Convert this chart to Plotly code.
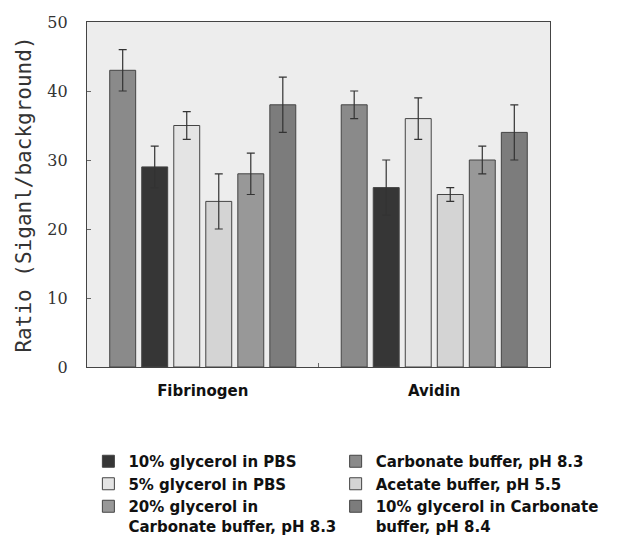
import plotly.graph_objects as go

categories = ["Fibrinogen", "Avidin"]

series_names = [
    "Carbonate buffer, pH 8.3",
    "10% glycerol in PBS",
    "5% glycerol in PBS",
    "Acetate buffer, pH 5.5",
    "20% glycerol in<br>Carbonate buffer, pH 8.3",
    "10% glycerol in Carbonate<br>buffer, pH 8.4",
]
series_values = [
    [43, 38],
    [29, 26],
    [35, 36],
    [24, 25],
    [28, 30],
    [38, 34],
]
series_errors = [
    [3, 2],
    [3, 4],
    [2, 3],
    [4, 1],
    [3, 2],
    [4, 4],
]
series_colors = ["#8a8a8a", "#363636", "#e4e4e4", "#d4d4d4", "#989898", "#7c7c7c"]
legend_ids = ["legend2", "legend", "legend", "legend2", "legend", "legend2"]
legend_ranks = [1, 1, 2, 2, 3, 3]

y_ticks = [0, 10, 20, 30, 40, 50]

fig = go.Figure()
for name, vals, errs, col, lid, rank in zip(series_names, series_values, series_errors,
                                            series_colors, legend_ids, legend_ranks):
    fig.add_trace(go.Bar(
        name=name,
        x=categories,
        y=vals,
        error_y=dict(type="data", array=errs, color="#333333", thickness=1.2, width=4),
        marker=dict(color=col, line=dict(color="#444444", width=1)),
        legend=lid,
        legendrank=rank,
    ))

# browser body has an 8px default margin, compensate
plot_h = 543 - 14 - 184
legend_font = dict(family="DejaVu Sans", size=15, color="#111111", weight="bold")
legend_y = -(437 - 359) / plot_h
fig.update_layout(
    width=617, height=543,
    margin=dict(l=79, r=75, t=14, b=184, autoexpand=False),
    paper_bgcolor="white",
    plot_bgcolor="#ededed",
    barmode="group",
    bargap=0.17,
    bargroupgap=0.19,
    showlegend=True,
    legend=dict(
        orientation="v",
        x=0.003, xanchor="left",
        y=legend_y, yanchor="top",
        font=legend_font,
        valign="top",
        bgcolor="rgba(0,0,0,0)",
        tracegroupgap=0,
        itemwidth=30,
    ),
    legend2=dict(
        orientation="v",
        x=0.537, xanchor="left",
        y=legend_y, yanchor="top",
        font=legend_font,
        valign="top",
        bgcolor="rgba(0,0,0,0)",
        tracegroupgap=0,
        itemwidth=30,
    ),
    font=dict(family="DejaVu Sans", color="#222222"),
)

fig.update_xaxes(
    type="category",
    range=[-0.5, 1.5],
    showline=True, linecolor="#444444", linewidth=1.2, mirror=True,
    ticks="inside", tickson="boundaries", ticklen=4, tickcolor="#666666",
    tickfont=dict(family="DejaVu Sans", size=15, color="#111111", weight="bold"),
    ticklabelstandoff=10,
    showgrid=False,
)
fig.update_yaxes(
    range=[0, 50],
    tickvals=y_ticks,
    ticktext=[str(v) for v in y_ticks],
    showline=True, linecolor="#444444", linewidth=1.2, mirror=True,
    ticks="inside", ticklen=4, tickcolor="#666666",
    tickfont=dict(family="DejaVu Serif", size=16, color="#333333"),
    ticklabelstandoff=15,
    showgrid=False, zeroline=False,
    title=dict(text="Ratio (Siganl/background)",
               font=dict(family="DejaVu Sans Mono", size=21, color="#333333"),
               standoff=9),
)

fig.write_html("out.html")
